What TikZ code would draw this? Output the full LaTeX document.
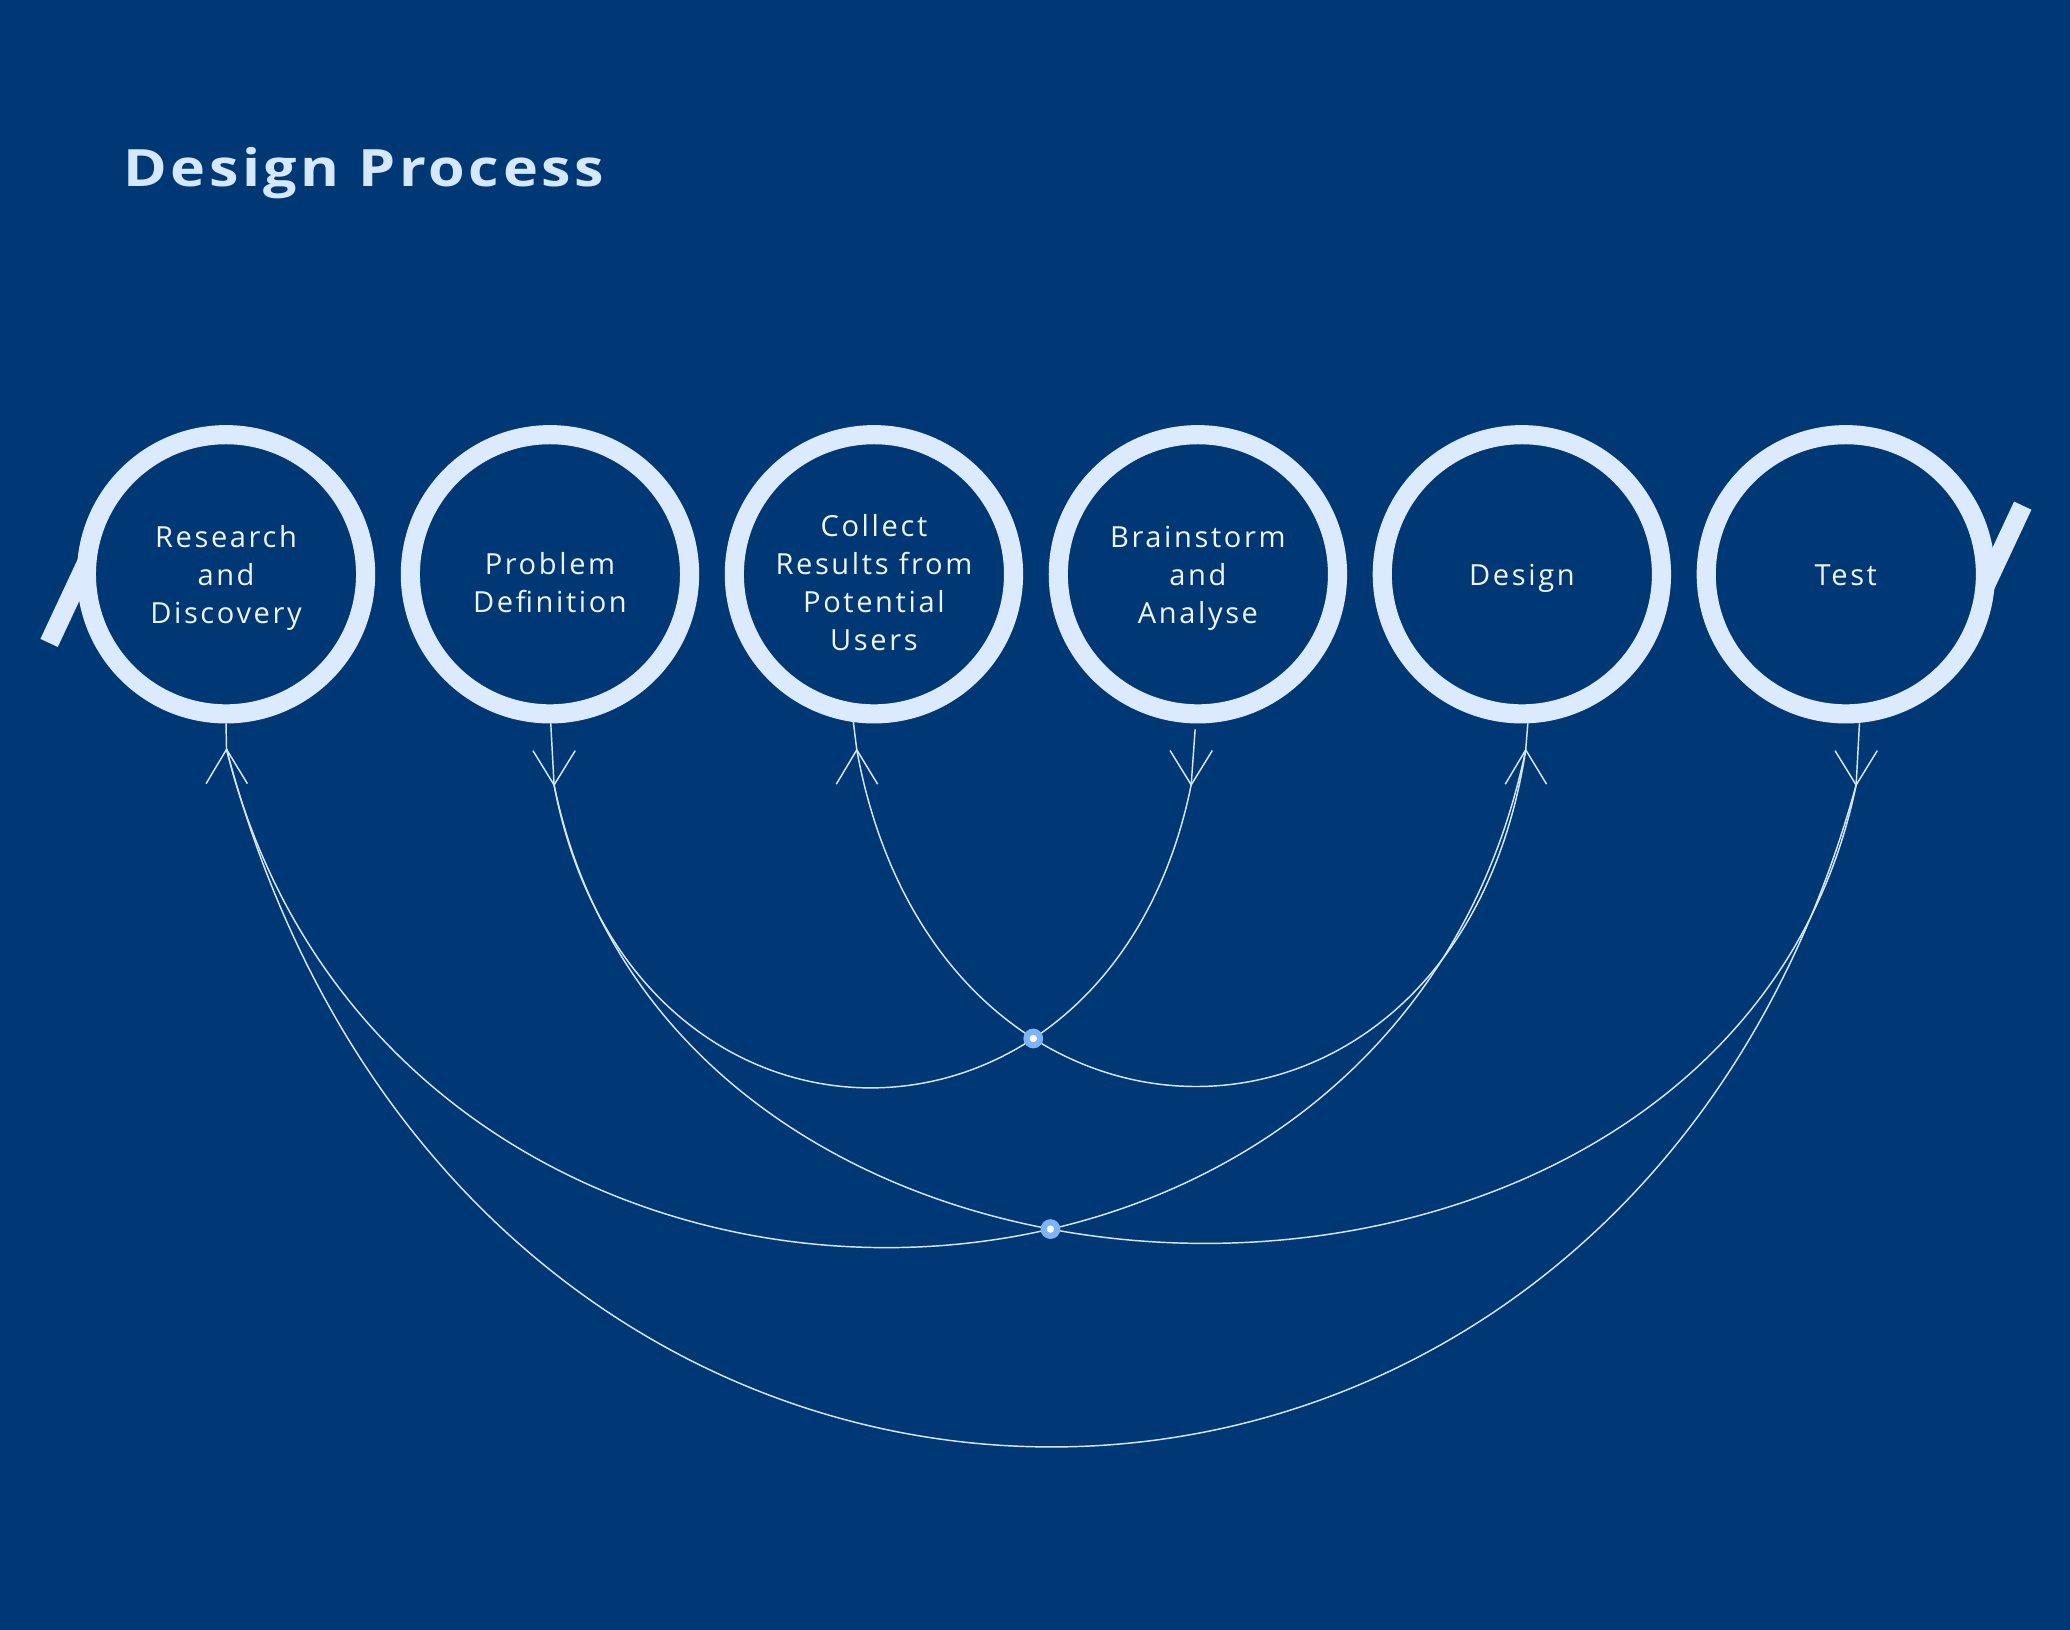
\documentclass[tikz,border=0pt]{standalone}
\usepackage{fontspec}
\setmainfont{Open Sans}
\newfontfamily\labfont[LetterSpace=9]{Open Sans}
\newfontfamily\titlefont[LetterSpace=7,FakeStretch=1.15]{Open Sans}
\usetikzlibrary{calc,intersections}
\definecolor{bgcol}{RGB}{0,56,117}
\definecolor{ringcol}{RGB}{219,235,253}
\definecolor{titlecol}{RGB}{214,232,253}
\definecolor{labcol}{RGB}{238,245,255}
\definecolor{linecol}{RGB}{215,232,252}
\definecolor{dotcol}{RGB}{126,179,244}
\tikzset{
  ring/.style={circle, draw=ringcol, line width=14.5pt, minimum size=211.5pt, inner sep=0pt},
  lab/.style={font=\labfont\fontsize{22}{28.7}\selectfont, text=labcol, align=center, inner sep=0pt},
  tail/.style={draw=ringcol, line width=14.5pt, line cap=butt},
  conn/.style={draw=linecol, line width=1.1pt},
  junction/.style={circle, fill=dotcol, minimum size=15pt, inner sep=0pt},
}
\begin{document}
\begin{tikzpicture}[x=1pt,y=-1pt]
\fill[bgcol] (0,0) rectangle (1568,1234.7);
\useasboundingbox (0,0) rectangle (1568,1234.7);

\node[anchor=base west, inner sep=0pt, text=titlecol, font=\titlefont\bfseries\fontsize{39}{45}\selectfont] (title) at (93,141) {Design Process};

% tails
\draw[tail] ($(171.2,435)+(-134,52)$) -- ($(171.2,435)+(-105,-10)$);
\draw[tail] ($(1398.2,435)+(134,-52)$) -- ($(1398.2,435)+(105,10)$);

% rings
\node[ring] (n1) at (171.2,435) {};
\node[ring] (n2) at (416.6,435) {};
\node[ring] (n3) at (662.0,435) {};
\node[ring] (n4) at (907.4,435) {};
\node[ring] (n5) at (1152.8,435) {};
\node[ring] (n6) at (1398.2,435) {};

% labels
\node[lab, yshift=-3pt] (l1) at (n1.center) {Research\\and\\Discovery};
\node[lab, yshift=-6.5pt] (l2) at (n2.center) {Problem\\Definition};
\node[lab, yshift=-6.5pt] (l3) at (n3.center) {Collect\\Results from\\Potential\\Users};
\node[lab, yshift=-3pt] (l4) at (n4.center) {Brainstorm\\and\\Analyse};
\node[lab, yshift=-3pt] (l5) at (n5.center) {Design};
\node[lab, yshift=-1pt] (l6) at (n6.center) {Test};

% stem tops and marker apexes
\coordinate (t1) at ($(n1.center)+(0,113)$);
\coordinate (a1) at ($(n1.center)+(0.4,132.6)$);
\coordinate (t2) at ($(n2.center)+(0.6,113)$);
\coordinate (a2) at ($(n2.center)+(3.1,159.6)$);
\coordinate (t3) at ($(n3.center)+(-15.6,112)$);
\coordinate (a3) at ($(n3.center)+(-13,133)$);
\coordinate (t4) at ($(n4.center)+(-2.1,117.5)$);
\coordinate (a4) at ($(n4.center)+(-5.1,159.5)$);
\coordinate (t5) at ($(n5.center)+(4.5,113)$);
\coordinate (a5) at ($(n5.center)+(2.9,133)$);
\coordinate (t6) at ($(n6.center)+(10.3,113)$);
\coordinate (a6) at ($(n6.center)+(7.8,159.6)$);

% stems
\foreach \i in {1,...,6} { \draw[conn] (t\i) -- (a\i); }
% markers (open forks)
\foreach \i in {1,3,5} { \draw[conn] ($(a\i)+(-15.5,26)$) -- (a\i) -- ($(a\i)+(15.8,26)$); }
\foreach \i in {2,4,6} { \draw[conn] ($(a\i)+(-16,-26)$) -- (a\i) -- ($(a\i)+(16,-26)$); }

% connectors
\draw[conn, name path=c1] (a1) .. controls ($(a1)+(125,503)$) and ($(a5)+(-105,503)$) .. (a5);
\draw[conn, name path=c2] (a1) .. controls ($(a1)+(185,700)$) and ($(a6)+(-185,673)$) .. (a6);
\draw[conn, name path=c3] (a2) .. controls ($(a2)+(58,306)$) and ($(a4)+(-62,306)$) .. (a4);
\draw[conn, name path=c4] (a2) .. controls ($(a2)+(95,463)$) and ($(a6)+(-95,463)$) .. (a6);
\draw[conn, name path=c5] (a3) .. controls ($(a3)+(62,340)$) and ($(a5)+(-52,340)$) .. (a5);

% junction dots
\path[name intersections={of=c3 and c5, by=x1}];
\path[name intersections={of=c1 and c4, by=x2}];
\node[junction] (d1) at (x1) {};
\node[junction] (d2) at (x2) {};
\fill[white] (d1.center) circle (2.8);
\fill[white] (d2.center) circle (2.8);
\end{tikzpicture}
\end{document}
